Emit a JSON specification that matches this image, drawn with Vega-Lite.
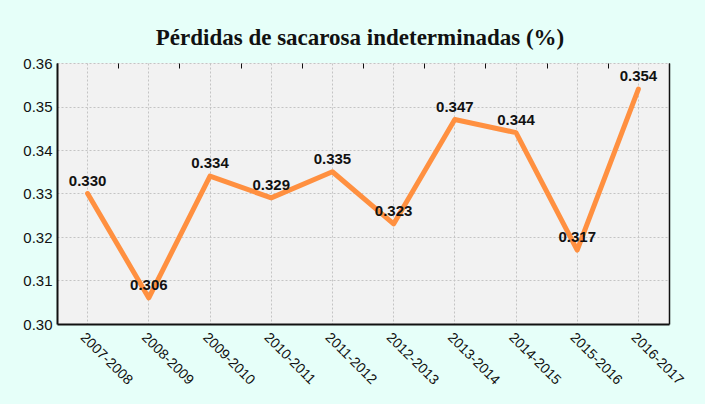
{
  "$schema": "https://vega.github.io/schema/vega-lite/v6.json",
  "width": 612,
  "height": 261,
  "autosize": "none",
  "padding": {"left": 57, "top": 63, "right": 36, "bottom": 80},
  "background": "#E6FFF9",
  "title": {
    "text": "Pérdidas de sacarosa indeterminadas (%)",
    "font": "Liberation Serif",
    "fontSize": 23,
    "fontWeight": "bold",
    "color": "#111111",
    "anchor": "middle",
    "offset": 6,
    "dx": -3
  },
  "config": {
    "view": {"stroke": null, "fill": "#F2F2F2"},
    "axis": {
      "labelFont": "Liberation Sans",
      "labelColor": "#111111",
      "domainColor": "#111111",
      "gridColor": "#C4C4C4",
      "gridDash": [2, 2],
      "title": null
    }
  },
  "data": {
    "values": [
      {"periodo": "2007-2008", "valor": 0.330},
      {"periodo": "2008-2009", "valor": 0.306},
      {"periodo": "2009-2010", "valor": 0.334},
      {"periodo": "2010-2011", "valor": 0.329},
      {"periodo": "2011-2012", "valor": 0.335},
      {"periodo": "2012-2013", "valor": 0.323},
      {"periodo": "2013-2014", "valor": 0.347},
      {"periodo": "2014-2015", "valor": 0.344},
      {"periodo": "2015-2016", "valor": 0.317},
      {"periodo": "2016-2017", "valor": 0.354}
    ]
  },
  "resolve": {"axis": {"x": "independent", "y": "independent"}},
  "layer": [
    {
      "mark": {"type": "line", "color": "#FF9040", "strokeWidth": 5, "strokeCap": "round", "strokeJoin": "round"},
      "encoding": {
        "x": {
          "field": "periodo", "type": "ordinal", "bandPosition": 0.5,
          "scale": {"type": "band", "paddingInner": 0, "paddingOuter": 0},
          "axis": {
            "labelAngle": 45, "labelFontSize": 14, "ticks": false, "grid": true,
            "domain": true, "domainWidth": 2, "labelPadding": 6, "tickBand": "center"
          }
        },
        "y": {
          "field": "valor", "type": "quantitative",
          "scale": {"domain": [0.30, 0.36], "zero": false, "nice": false},
          "axis": {
            "values": [0.30, 0.31, 0.32, 0.33, 0.34, 0.35, 0.36],
            "format": ".2f", "labelFontSize": 15, "ticks": false, "grid": true,
            "domainWidth": 2, "labelPadding": 5
          }
        }
      }
    },
    {
      "mark": {"type": "text", "font": "Liberation Sans", "fontWeight": "bold", "fontSize": 15, "color": "#111111", "dy": -13},
      "encoding": {
        "x": {
          "field": "periodo", "type": "ordinal", "bandPosition": 0.5,
          "axis": {
            "labels": false, "grid": false, "domain": false, "ticks": true,
            "tickBand": "extent", "tickSize": -5, "tickColor": "#111111", "tickWidth": 1
          }
        },
        "y": {
          "field": "valor", "type": "quantitative",
          "axis": {"orient": "right", "labels": false, "ticks": false, "grid": false, "domain": true, "domainColor": "#111111", "domainWidth": 1.5}
        },
        "text": {"field": "valor", "type": "quantitative", "format": ".3f"}
      }
    }
  ]
}
